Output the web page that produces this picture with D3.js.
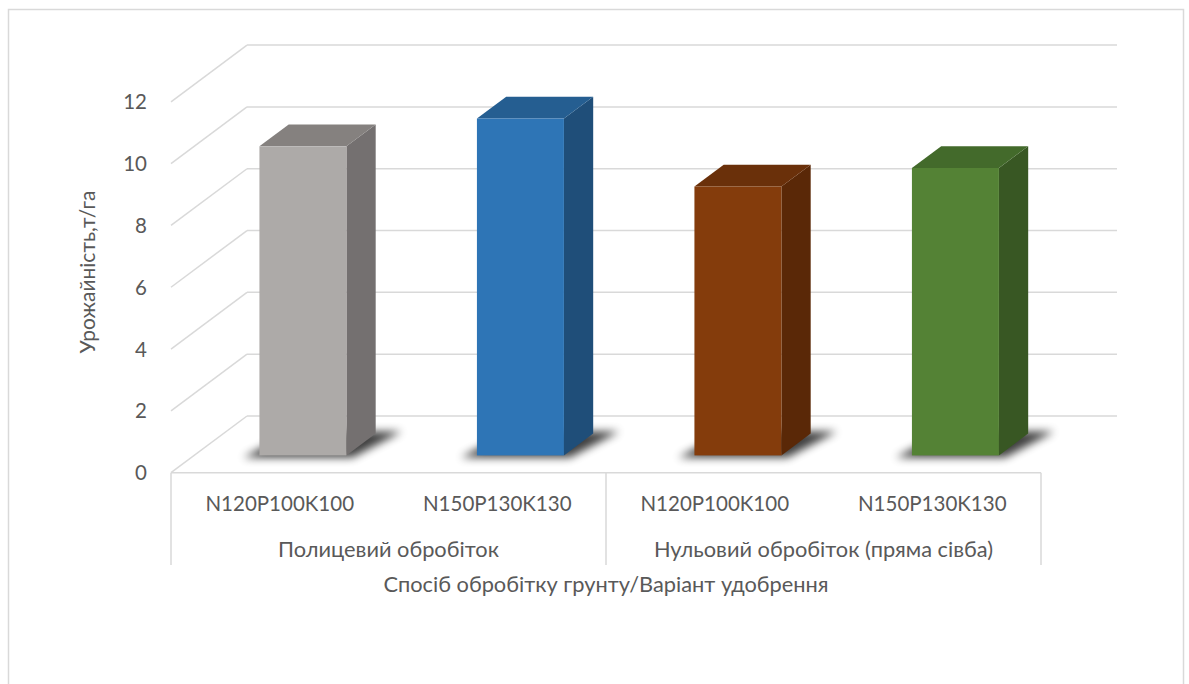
<!DOCTYPE html>
<html>
<head>
<meta charset="utf-8">
<script src="https://cdn.jsdelivr.net/npm/d3@7"></script>
<style>
  html, body { margin: 0; padding: 0; background: #ffffff; }
  svg { display: block; }
  text { font-family: Lato, "Open Sans", sans-serif; fill: #595959; }
</style>
</head>
<body>
<svg id="chart" width="1189" height="684"></svg>
<script>
// ---- data ----
const categories = ["N120P100K100", "N150P130K130", "N120P100K100", "N150P130K130"];
const groups = ["Полицевий обробіток", "Нульовий обробіток (пряма сівба)"];
const values = [10.0, 10.9, 8.7, 9.3];
const yTicks = [0, 2, 4, 6, 8, 10, 12];
const frontColors = ["#ADAAA8", "#2E75B6", "#843C0C", "#548235"];
const sideColors  = ["#747070", "#1F4E79", "#5A2807", "#385723"];
const topColors   = ["#85817F", "#255E91", "#6A300A", "#436A2B"];
const yTitle = "Урожайність,т/га";
const xTitle = "Спосіб обробітку грунту/Варіант удобрення";

// ---- layout ----
const svg = d3.select("#chart");
const X0 = 171, X1 = 1041;          // front floor edge
const Y0 = 472.7, YTOP = 101.8;     // front value range
const DX = 76, DY = 56.7;           // depth vector (back = +DX, -DY)
const T1 = 0.305, T2 = 0.69;        // bar depth range

const x = d3.scaleBand().domain(d3.range(categories.length)).range([X0, X1])
  .paddingInner(0.6).paddingOuter(0.3);
const y = d3.scaleLinear().domain([0, 12]).range([Y0, YTOP]);

const grid = "#d9d9d9";

// chart border
svg.append("rect").attr("x", 8.5).attr("y", 9.5).attr("width", 1175).attr("height", 720)
  .attr("fill", "none").attr("stroke", grid).attr("stroke-width", 1.5);

// back wall gridlines + side wall diagonals
const g = svg.append("g");
yTicks.forEach(v => {
  g.append("line").attr("x1", X0 + DX).attr("x2", X1 + DX)
    .attr("y1", y(v) - DY).attr("y2", y(v) - DY)
    .attr("stroke", grid).attr("stroke-width", 1.5);
  g.append("line").attr("x1", X0).attr("x2", X0 + DX)
    .attr("y1", y(v)).attr("y2", y(v) - DY)
    .attr("stroke", grid).attr("stroke-width", 1.5);
});

// shadow filter
const defs = svg.append("defs");
const f = defs.append("filter").attr("id", "blur").attr("x", "-50%").attr("y", "-50%")
  .attr("width", "200%").attr("height", "200%");
f.append("feGaussianBlur").attr("stdDeviation", 4);

const pt = (px, py) => px + "," + py;

values.forEach((v, i) => {
  const xl = x(i), xr = x(i) + x.bandwidth();
  const yb = y(0), yt = y(v);
  const fx = T1 * DX, fy = T1 * DY, bx = T2 * DX, by = T2 * DY;

  // shadow on floor
  svg.append("polygon")
    .attr("points", [
      pt(xl + fx - 16, yb - fy + 2),
      pt(xr + fx + 6, yb - fy + 2),
      pt(xr + bx + 26, yb - by - 2),
      pt(xl + bx + 4, yb - by - 2)
    ].join(" "))
    .attr("fill", "#000").attr("opacity", 0.75).attr("filter", "url(#blur)");

  // side face
  svg.append("polygon")
    .attr("points", [
      pt(xr + fx, yb - fy), pt(xr + bx, yb - by), pt(xr + bx, yt - by), pt(xr + fx, yt - fy)
    ].join(" "))
    .attr("fill", sideColors[i]);
  // top face
  svg.append("polygon")
    .attr("points", [
      pt(xl + fx, yt - fy), pt(xr + fx, yt - fy), pt(xr + bx, yt - by), pt(xl + bx, yt - by)
    ].join(" "))
    .attr("fill", topColors[i]);
  // front face
  svg.append("rect")
    .attr("x", xl + fx).attr("y", yt - fy)
    .attr("width", x.bandwidth()).attr("height", yb - yt)
    .attr("fill", frontColors[i]);
});

// front floor edge / category axis box
const ax = svg.append("g").attr("stroke", grid).attr("stroke-width", 1.5);
ax.append("line").attr("x1", X0).attr("x2", X1).attr("y1", Y0).attr("y2", Y0);
[X0, (X0 + X1) / 2, X1].forEach(px => {
  ax.append("line").attr("x1", px).attr("x2", px).attr("y1", Y0).attr("y2", 565);
});

// y tick labels
yTicks.forEach(v => {
  svg.append("text").attr("x", 147).attr("y", y(v) + 7.5)
    .attr("text-anchor", "end").attr("font-size", 20.5).text(v);
});

// category labels
categories.forEach((c, i) => {
  svg.append("text").attr("x", x(i) + x.bandwidth() / 2).attr("y", 510.5)
    .attr("text-anchor", "middle").attr("font-size", 20.5).text(c);
});
// group labels
const half = (X1 - X0) / 2;
groups.forEach((gname, i) => {
  svg.append("text").attr("x", X0 + half * i + half / 2).attr("y", 557)
    .attr("text-anchor", "middle").attr("font-size", 21.8).text(gname);
});
// axis titles
svg.append("text").attr("x", 606).attr("y", 592)
  .attr("text-anchor", "middle").attr("font-size", 21.8).text(xTitle);
svg.append("text").attr("transform", "translate(95,272) rotate(-90)")
  .attr("text-anchor", "middle").attr("font-size", 21).text(yTitle);
</script>
</body>
</html>
